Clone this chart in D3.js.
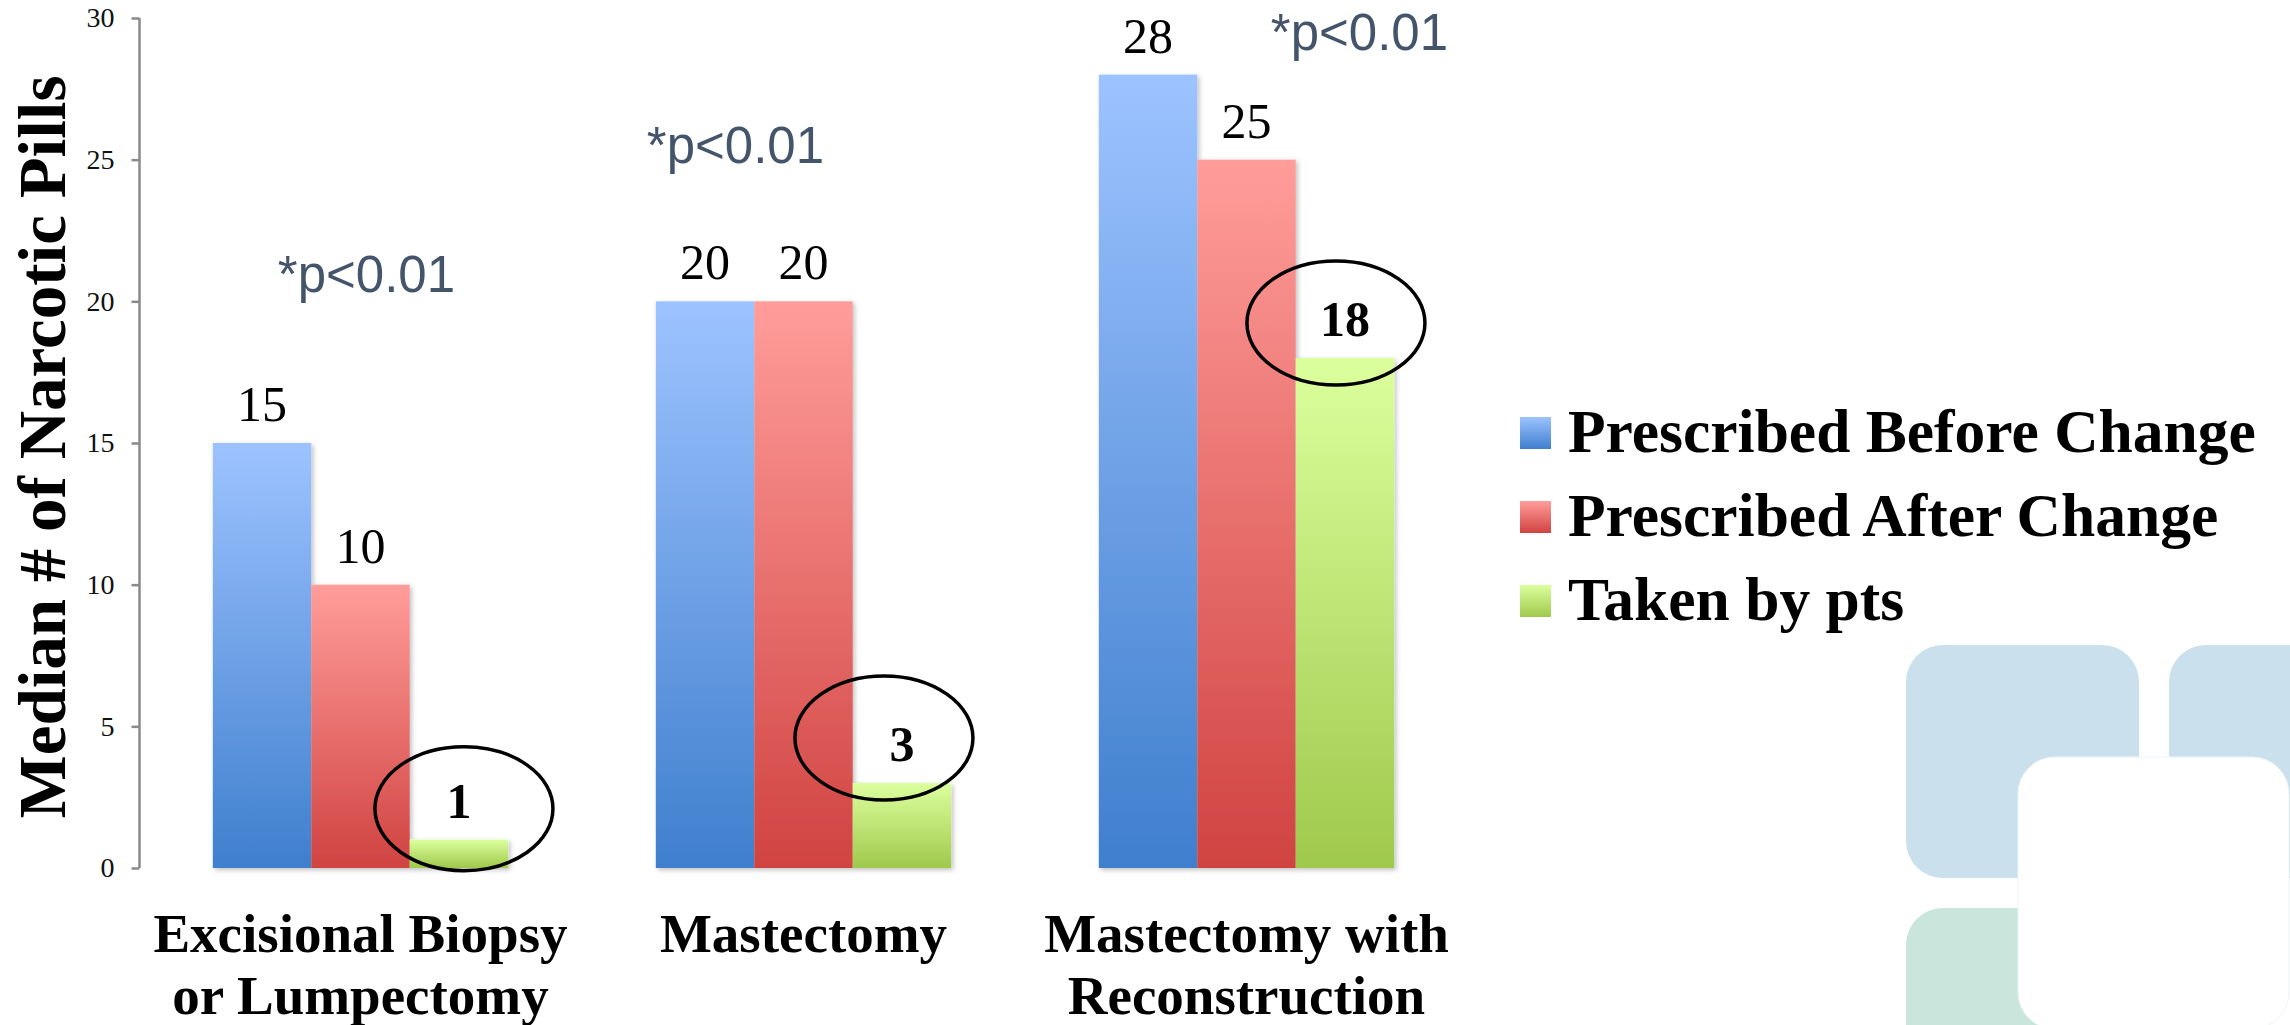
<!DOCTYPE html>
<html>
<head>
<meta charset="utf-8">
<script src="https://cdn.jsdelivr.net/npm/d3@7"></script>
<style>
  html, body { margin: 0; padding: 0; background: #fff; }
  svg { display: block; }
</style>
</head>
<body>
<svg id="chart" width="2290" height="1025"></svg>
<script>
// Median narcotic pills per procedure, before/after prescribing change and actually taken
const categories = ["Excisional Biopsy or Lumpectomy", "Mastectomy", "Mastectomy with Reconstruction"];
const categoryLines = [["Excisional Biopsy", "or Lumpectomy"], ["Mastectomy"], ["Mastectomy with", "Reconstruction"]];
const seriesNames = ["Prescribed Before Change", "Prescribed After Change", "Taken by pts"];
const prescribedBefore = [15, 20, 28];
const prescribedAfter = [10, 20, 25];
const takenByPts = [1, 3, 18];
const yTicks = [0, 5, 10, 15, 20, 25, 30];
const pNotes = ["*p<0.01", "*p<0.01", "*p<0.01"];

const seriesValues = [prescribedBefore, prescribedAfter, takenByPts];

// Styling
const gradients = [
  { id: "gBlue", top: "#9dc3ff", bottom: "#3f7fcd" },
  { id: "gRed", top: "#ff9d9a", bottom: "#d04341" },
  { id: "gGreen", top: "#dcff9d", bottom: "#9fc94c" }
];
const pNoteLayout = [
  { dx: 65, y: 292 },
  { dx: -9, y: 163 },
  { dx: 172, y: 50 }
];
// ring drawn round the "taken" label, offset from the label centre
const ringLayout = [
  { dx: 5, dy: 8 },
  { dx: -18, dy: -6 },
  { dx: -9, dy: 4 }
];

const svg = d3.select("#chart");
svg.append("rect").attr("width", 2290).attr("height", 1025).attr("fill", "#fff");

const defs = svg.append("defs");
gradients.forEach(g => {
  const lg = defs.append("linearGradient").attr("id", g.id)
    .attr("x1", 0).attr("y1", 0).attr("x2", 0).attr("y2", 1);
  lg.append("stop").attr("offset", "0%").attr("stop-color", g.top);
  lg.append("stop").attr("offset", "100%").attr("stop-color", g.bottom);
});
const shadow = defs.append("filter").attr("id", "barShadow")
  .attr("x", "-10%").attr("y", "-10%").attr("width", "130%").attr("height", "130%");
shadow.append("feDropShadow").attr("dx", 2).attr("dy", 2).attr("stdDeviation", 2.5)
  .attr("flood-color", "#000").attr("flood-opacity", 0.25);

// Decorative rounded tiles, lower right
const deco = svg.append("g");
deco.append("rect").attr("x", 1906).attr("y", 645).attr("width", 233).attr("height", 233).attr("rx", 37).attr("fill", "#cae0ec");
deco.append("rect").attr("x", 2169).attr("y", 645).attr("width", 233).attr("height", 233).attr("rx", 37).attr("fill", "#cae0ec");
deco.append("rect").attr("x", 1906).attr("y", 908).attr("width", 233).attr("height", 233).attr("rx", 37).attr("fill", "#c9e5dc");
deco.append("rect").attr("x", 2018).attr("y", 757).attr("width", 271).attr("height", 272).attr("rx", 37)
  .attr("fill", "#fff").attr("stroke", "#eef4f7").attr("stroke-width", 1);

// Scales
const y = d3.scaleLinear().domain([0, 30]).range([868, 18]);
const x0 = d3.scaleBand().domain(categories).range([139, 1468]).paddingInner(1 / 3).paddingOuter(1 / 6);
const x1 = d3.scaleBand().domain(seriesNames).range([0, x0.bandwidth()]);

// Bars
const rows = [];
categories.forEach((c, ci) => {
  seriesNames.forEach((s, si) => {
    rows.push({ cat: c, ci, series: s, si, value: seriesValues[si][ci] });
  });
});

const barLayer = svg.append("g").attr("filter", "url(#barShadow)");
barLayer.selectAll("rect").data(rows).join("rect")
  .attr("x", d => x0(d.cat) + x1(d.series))
  .attr("y", d => y(d.value))
  .attr("width", x1.bandwidth())
  .attr("height", d => y(0) - y(d.value))
  .attr("fill", d => `url(#${gradients[d.si].id})`);

// Axes
const axisColor = "#8a8a8a";
const yAxis = svg.append("g").attr("transform", "translate(139.5,0)")
  .call(d3.axisLeft(y).tickValues(yTicks).tickSize(8).tickPadding(17));
yAxis.select(".domain").attr("stroke", axisColor).attr("stroke-width", 2.5).attr("d", `M0,${y(30)}V${y(0)}`);
yAxis.selectAll(".tick line").attr("stroke", axisColor).attr("stroke-width", 2.5);
yAxis.selectAll(".tick text")
  .attr("font-family", "'Liberation Serif', serif").attr("font-size", 28).attr("fill", "#111");

const xAxis = svg.append("g").attr("transform", `translate(0,${y(0)})`)
  .call(d3.axisBottom(x0).tickSize(0).tickFormat(""));
xAxis.select(".domain").attr("stroke", axisColor).attr("stroke-width", 3)
  .attr("d", "M139,0H1468").attr("filter", "url(#barShadow)");

// Category labels
categories.forEach((c, ci) => {
  const t = svg.append("text")
    .attr("x", x0(c) + x0.bandwidth() / 2)
    .attr("y", 952)
    .attr("text-anchor", "middle")
    .attr("font-family", "'Liberation Serif', serif")
    .attr("font-weight", "bold")
    .attr("font-size", 55)
    .attr("fill", "#000");
  categoryLines[ci].forEach((line, li) => {
    t.append("tspan").attr("x", x0(c) + x0.bandwidth() / 2).attr("dy", li === 0 ? 0 : 62).text(line);
  });
});

// Value labels
svg.append("g").selectAll("text").data(rows).join("text")
  .attr("x", d => x0(d.cat) + x1(d.series) + x1.bandwidth() / 2)
  .attr("y", d => y(d.value) - 22)
  .attr("text-anchor", "middle")
  .attr("font-family", "'Liberation Serif', serif")
  .attr("font-weight", d => d.si === 2 ? "bold" : "normal")
  .attr("font-size", 50)
  .attr("fill", "#000")
  .text(d => d.value);

// Rings round the "taken" values
rows.filter(d => d.si === 2).forEach(d => {
  const cx = x0(d.cat) + x1(d.series) + x1.bandwidth() / 2 + ringLayout[d.ci].dx;
  const cy = y(d.value) - 22 - 17 + ringLayout[d.ci].dy;
  svg.append("ellipse").attr("cx", cx).attr("cy", cy).attr("rx", 89).attr("ry", 62)
    .attr("fill", "none").attr("stroke", "#000").attr("stroke-width", 3.5);
});

// Significance notes
pNotes.forEach((p, i) => {
  svg.append("text")
    .attr("x", x0(categories[i]) + pNoteLayout[i].dx)
    .attr("y", pNoteLayout[i].y)
    .attr("font-family", "'Liberation Sans', Arial, sans-serif")
    .attr("font-size", 51)
    .attr("fill", "#44546a")
    .text(p);
});

// Y axis title
svg.append("text")
  .attr("transform", "translate(65,447) rotate(-90)")
  .attr("text-anchor", "middle")
  .attr("font-family", "'Liberation Serif', serif")
  .attr("font-weight", "bold")
  .attr("font-size", 67)
  .attr("fill", "#000")
  .text("Median # of Narcotic Pills");

// Legend
const legend = svg.append("g");
seriesNames.forEach((s, i) => {
  const cy = 433 + i * 84;
  legend.append("rect").attr("x", 1520).attr("y", cy - 16).attr("width", 31).attr("height", 32)
    .attr("fill", `url(#${gradients[i].id})`);
  legend.append("text").attr("x", 1568).attr("y", cy + 19)
    .attr("font-family", "'Liberation Serif', serif")
    .attr("font-weight", "bold")
    .attr("font-size", 61.5)
    .attr("fill", "#000")
    .text(s);
});
</script>
</body>
</html>
